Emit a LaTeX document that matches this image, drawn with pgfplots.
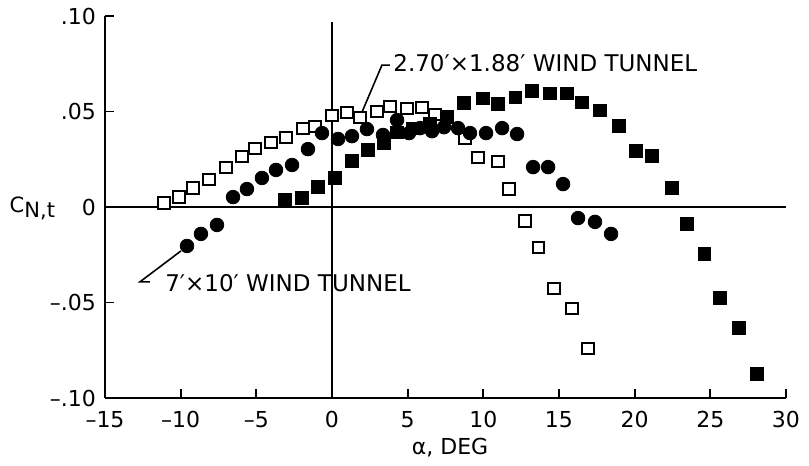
\documentclass[border=0pt]{standalone}
\usepackage{fontspec}
\setmainfont{DejaVu Sans}
\usepackage{pgfplots}
\pgfplotsset{compat=1.18}
\begin{document}
\begin{tikzpicture}
\path[use as bounding box] (-52.5pt,-34pt) rectangle (352pt,199pt);
\begin{axis}[
  scale only axis, width=340.5pt, height=191pt,
  xmin=-15, xmax=30, ymin=-0.1, ymax=0.1,
  axis x line*=bottom, axis y line*=left,
  axis line style={-, line width=1pt},
  tick align=inside, major tick length=4.5pt,
  tick style={line width=0.9pt, black},
  xtick={-15,-10,-5,0,5,10,15,20,25,30},
  xticklabels={–15,–10,–5,0,5,10,15,20,25,30},
  ytick={-0.1,-0.05,0,0.05,0.1},
  yticklabels={–.10,–.05,0,.05,.10},
  ticklabel style={font=\fontsize{11}{13}\selectfont},
  xticklabel style={yshift=-3pt},
  yticklabel style={xshift=-1pt},
  clip=false,
]
\draw[line width=1pt] (axis cs:-15,0) -- (axis cs:30,0);
\draw[line width=1pt] (axis cs:0,-0.1) -- (axis cs:0,0.097);
% 2.70 x 1.88 wind tunnel: open squares
\addplot[only marks, mark=square*, mark size=2.8pt, mark options={draw=black, fill=white, line width=1pt}] coordinates {
(-11.10,0.0021) (-10.11,0.0052) (-9.19,0.0099) (-8.13,0.0146) (-7.01,0.0208)
(-5.95,0.0266) (-5.09,0.0307) (-4.03,0.0339) (-3.04,0.0365) (-1.92,0.0411)
(-1.12,0.0422) (0.00,0.0479) (0.99,0.0495) (1.85,0.0469) (2.97,0.0500)
(3.83,0.0526) (4.96,0.0516) (5.95,0.0521) (6.81,0.0484) (8.79,0.0359)
(9.65,0.0260) (10.97,0.0240) (11.70,0.0094) (12.76,-0.0073) (13.62,-0.0214)
(14.67,-0.0427) (15.86,-0.0531) (16.92,-0.0740)
};
% filled squares
\addplot[only marks, mark=square*, mark size=3.1pt, mark options={draw=black, fill=black}] coordinates {
(-3.11,0.0037) (-1.98,0.0047) (-0.93,0.0105) (0.20,0.0152) (1.32,0.0241)
(2.38,0.0298) (3.44,0.0335) (4.30,0.0392) (5.35,0.0413) (6.48,0.0439)
(7.60,0.0471) (8.72,0.0544) (9.98,0.0570) (10.97,0.0539) (12.10,0.0575)
(13.22,0.0607) (14.41,0.0596) (15.53,0.0596) (16.52,0.0549) (17.71,0.0507)
(18.97,0.0424) (20.09,0.0293) (21.15,0.0267) (22.47,0.0099) (23.46,-0.0089)
(24.59,-0.0246) (25.64,-0.0476) (26.90,-0.0633) (28.09,-0.0873)
};
% 7 x 10 wind tunnel: filled circles
\addplot[only marks, mark=*, mark size=3.4pt, mark options={draw=black, fill=black}] coordinates {
(-9.58,-0.0204) (-8.66,-0.0141) (-7.60,-0.0094) (-6.54,0.0052) (-5.62,0.0094)
(-4.63,0.0152) (-3.70,0.0194) (-2.64,0.0220) (-1.59,0.0303) (-0.66,0.0387)
(0.40,0.0356) (1.32,0.0371) (2.31,0.0408) (3.37,0.0377) (4.30,0.0455)
(5.09,0.0387) (5.82,0.0413) (6.61,0.0397) (7.40,0.0418) (8.33,0.0413)
(9.12,0.0387) (10.18,0.0387) (11.24,0.0413) (12.23,0.0382) (13.29,0.0209)
(14.28,0.0209) (15.27,0.0120) (16.26,-0.0058) (17.38,-0.0078) (18.44,-0.0141)
};
% leaders and annotations
\draw[line width=0.8pt] (axis cs:2.0,0.050) -- (axis cs:3.30,0.0743) -- (axis cs:3.83,0.0743);
\node[anchor=base west, inner sep=0pt, font=\fontsize{11.5}{13}\selectfont] at (axis cs:4.03,0.0711) {2.70′×1.88′ WIND TUNNEL};
\draw[line width=0.8pt] (axis cs:-9.98,-0.0230) -- (axis cs:-12.69,-0.0392) -- (axis cs:-12.03,-0.0392);
\node[anchor=base west, inner sep=0pt, font=\fontsize{11.5}{13}\selectfont] at (axis cs:-11.04,-0.0445) {7′×10′ WIND TUNNEL};
% axis labels
\node[anchor=base, inner sep=0pt, font=\fontsize{10.5}{12}\selectfont] at (axis cs:-19.8,-0.0030) {C\raisebox{-0.45ex}{N,t}};
\node[anchor=base, inner sep=0pt, font=\fontsize{11}{13}\selectfont] at (axis cs:7.8,-0.1297) {α, DEG};
\end{axis}
\end{tikzpicture}
\end{document}
